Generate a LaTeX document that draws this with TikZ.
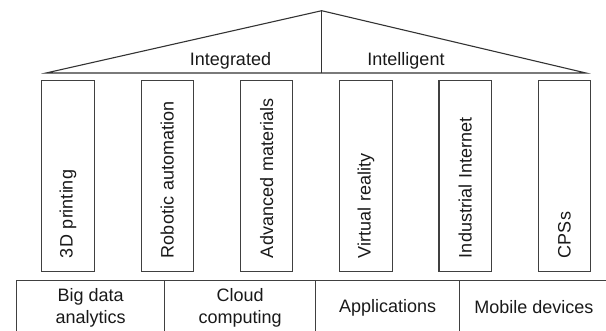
\documentclass[tikz,border=0pt]{standalone}
\usepackage{fontspec}
\setmainfont{Liberation Sans}
\usepackage{tikz}
\usetikzlibrary{positioning}
\tikzstyle{pillar} = [rectangle, rotate=90, minimum width=191pt, minimum height=52.5pt, inner xsep=13.5pt, text width=164pt, align=left, draw=black!75, line width=1.1pt, text=black!90]
\tikzstyle{base} = [rectangle, minimum height=54pt, align=center, draw=black!75, line width=1.1pt, text=black!90, anchor=north west, inner sep=0pt]
\tikzstyle{roof} = [draw=black!80, line width=1.1pt, line join=miter]
\tikzstyle{word} = [anchor=base, inner sep=0pt, text=black!90]

\begin{document}
\begin{tikzpicture}[x=1pt, y=-1pt, font=\fontsize{18pt}{22pt}\selectfont]
\useasboundingbox (0,0) rectangle (606,330);

% roof
\coordinate (apex) at (321.7,10.7);
\coordinate (eaveL) at (46,73);
\coordinate (eaveR) at (586,73);
\draw [roof] (eaveL) -- (apex) -- (eaveR) -- cycle;
\draw [roof] (apex) -- (apex |- eaveL);
\node (integrated) [word] at (230.5,65) {Integrated};
\node (intelligent) [word] at (406,65) {Intelligent};

% pillars
\node (print) [pillar] at (68,176) {3D printing};
\node (robot) [pillar] at (167.3,176) {Robotic automation};
\node (material) [pillar] at (266.6,176) {Advanced materials};
\node (virtual) [pillar] at (365.9,176) {Virtual reality};
\node (internet) [pillar] at (465.2,176) {Industrial Internet};
\node (cps) [pillar] at (564.5,176) {CPSs};

% foundation
\node (bigdata) [base, minimum width=148.3pt] at (16,280) {Big data\\analytics};
\node (cloud) [base, minimum width=150.7pt] at (164.3,280) {Cloud\\computing};
\node (apps) [base, minimum width=144.3pt] at (315,280) {Applications};
\node (mobile) [base, minimum width=150pt] at (459.3,280) {\hspace*{-2pt}Mobile devices};
\end{tikzpicture}
\end{document}
